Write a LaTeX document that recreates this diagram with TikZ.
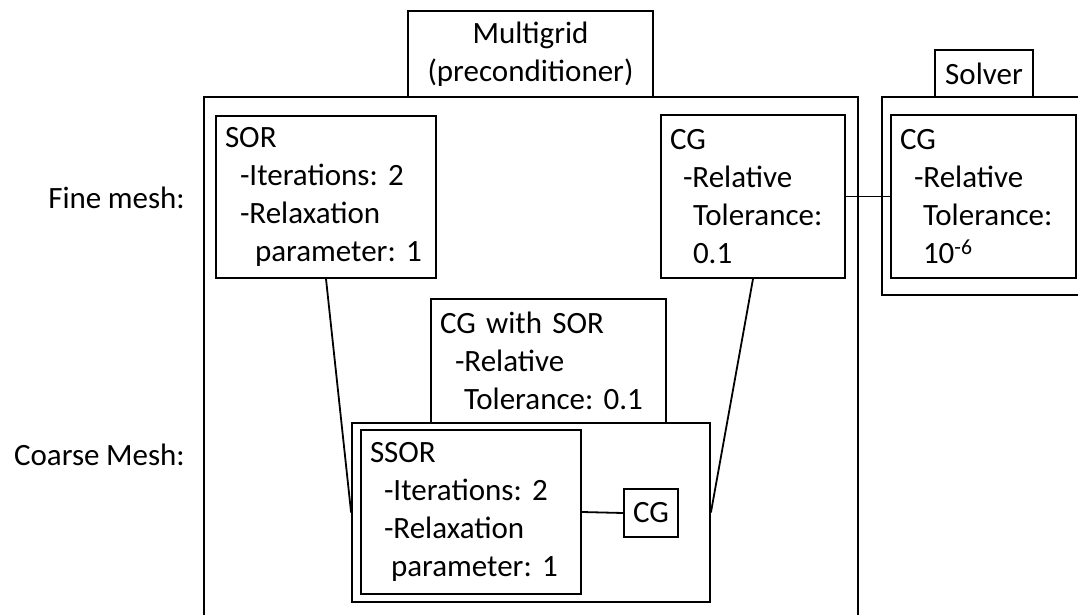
\documentclass[tikz,border=0pt]{standalone}
\usepackage{fontspec}
\setmainfont{Carlito}
\frenchspacing
\newcommand{\boxfont}{\fontsize{31}{38}\selectfont\spaceskip=6.5pt\relax\hyphenpenalty=10000\exhyphenpenalty=10000\relax}

\tikzset{
  box/.style={draw,line width=1.8pt,font=\boxfont,inner xsep=9pt,inner ysep=0pt},
  txtbox/.style={box,align=left},
  lbl/.style={font=\boxfont,inner sep=0pt},
}

\begin{document}
\begin{tikzpicture}[x=1pt,y=-1pt]
\useasboundingbox (0,0) rectangle (1078,615);
\clip (0,0) rectangle (1078,615);

% Outer frames (cut off by the page edge)
\node[box,minimum width=654pt,minimum height=543pt] (pre) at (531,368.5) {};
\node[box,minimum width=218pt,minimum height=198pt] (slvout) at (991,196) {};

% Titles
\node[box,align=center,minimum width=245pt,minimum height=86pt] (mg) at (530.5,54) {Multigrid\\(preconditioner)};
\node[box,align=center,minimum width=98pt,minimum height=47pt] (slv) at (984,73.5) {Solver};

% Fine mesh level
\node[txtbox,text width=202pt,minimum height=162pt] (sor) at (326,197)
  {SOR\\\hspace*{15pt}-Iterations:~2\\\hspace*{15pt}-Relaxation\\\hspace*{30pt}parameter:~1};
\node[txtbox,text width=166pt,minimum height=163pt] (cgf) at (753,196.5)
  {CG\\\hspace*{13pt}-Relative\\\hspace*{23pt}Tolerance:\\\hspace*{23pt}0.1};
\node[txtbox,text width=167pt,minimum height=163pt] (cgs) at (983.5,196.5)
  {CG\\\hspace*{14pt}-Relative\\\hspace*{23pt}Tolerance:\\\hspace*{23pt}10\textsuperscript{-6}};

% Coarse mesh level
\node[txtbox,text width=217pt,minimum height=124pt] (cgsor) at (548.5,361)
  {CG~with~SOR\\\hspace*{15pt}-Relative\\\hspace*{24pt}Tolerance:~0.1};
\node[box,minimum width=358pt,minimum height=179pt] (crs) at (531,512.5) {};
\node[txtbox,text width=202pt,minimum height=164pt] (ssor) at (471,512)
  {SSOR\\\hspace*{14pt}-Iterations:~2\\\hspace*{14pt}-Relaxation\\\hspace*{21pt}parameter:~1};
\node[box,align=center,minimum width=54pt,minimum height=48pt,inner xsep=4pt] (cgc) at (651,513) {CG};

% Row labels
\node[lbl,anchor=east] (fine) at (185,198) {Fine mesh:};
\node[lbl,anchor=east] (coarse) at (185,455) {Coarse Mesh:};

% Connections
\draw[line width=1.8pt] (sor.south) -- (crs.west);
\draw[line width=1.8pt] (cgf.south) -- (crs.east);
\draw[line width=1.8pt] (cgf.east) -- (cgs.west);
\draw[line width=1.8pt] (ssor.east) -- (cgc.west);

\end{tikzpicture}
\end{document}
